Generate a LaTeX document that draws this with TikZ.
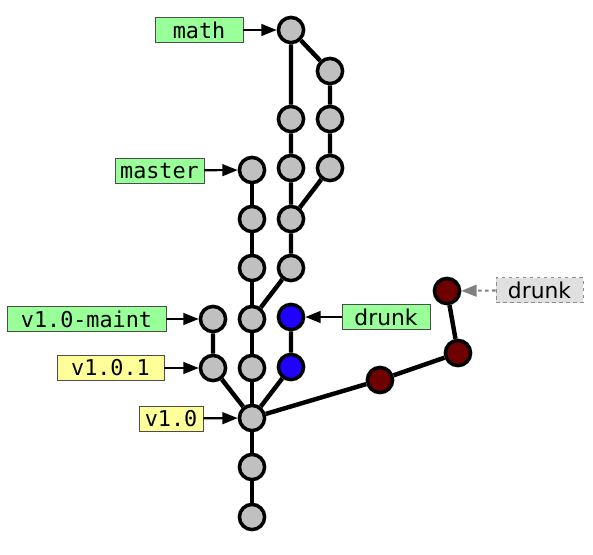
\documentclass[tikz,border=0pt]{standalone}
\usepackage{fontspec}
\setmonofont{DejaVu Sans Mono}
\setsansfont{DejaVu Sans}
\usetikzlibrary{arrows.meta}
\definecolor{labelgreen}{RGB}{153,255,153}
\definecolor{labelyellow}{RGB}{255,255,153}
\definecolor{commitgray}{RGB}{192,192,192}
\definecolor{commitblue}{RGB}{32,0,255}
\definecolor{commitred}{RGB}{110,0,0}
\begin{document}
\begin{tikzpicture}[x=0.03cm,y=-0.03cm,
  commit/.style={circle,draw=black,line width=3pt,fill=commitgray,minimum size=21.5pt,inner sep=0pt},
  edge_line/.style={line width=3.8pt},
  ref_label/.style={rectangle,draw=black!70,line width=0.7pt,minimum height=0.75cm,inner sep=0pt,
    font=\fontsize{18.6}{20}\selectfont\ttfamily},
  ref_arrow/.style={line width=1.8pt,-{Triangle[length=13pt,width=10pt]}}]

  \useasboundingbox (0,0) rectangle (593,554);

  % commits
  \node[commit] (b1) at (252,517) {};
  \node[commit] (b2) at (252,467) {};
  \node[commit] (v10) at (252,418) {};
  \node[commit] (m1) at (252,368) {};
  \node[commit] (m2) at (252,319) {};
  \node[commit] (m3) at (252,268) {};
  \node[commit] (m4) at (252,219) {};
  \node[commit] (m5) at (252,170) {};
  \node[commit] (t1) at (213,368) {};
  \node[commit] (t2) at (213,319) {};
  \node[commit,fill=commitblue] (d1) at (291,367) {};
  \node[commit,fill=commitblue] (d2) at (291,317) {};
  \node[commit] (a1) at (291,268) {};
  \node[commit] (a2) at (291,219) {};
  \node[commit] (a3) at (291,168) {};
  \node[commit] (a4) at (291,119) {};
  \node[commit] (a5) at (291,30) {};
  \node[commit] (c1) at (330,168) {};
  \node[commit] (c2) at (330,119) {};
  \node[commit] (c3) at (330,71) {};
  \node[commit,fill=commitred] (r1) at (380,380) {};
  \node[commit,fill=commitred] (r2) at (458,353) {};
  \node[commit,fill=commitred] (r3) at (447,291) {};

  % history
  \draw[edge_line] (b1) -- (b2) -- (v10) -- (m1) -- (m2) -- (m3) -- (m4) -- (m5);
  \draw[edge_line] (v10) -- (t1) -- (t2);
  \draw[edge_line] (v10) -- (d1) -- (d2);
  \draw[edge_line] (m2) -- (a1) -- (a2) -- (a3) -- (a4) -- (a5);
  \draw[edge_line] (a2) -- (c1) -- (c2) -- (c3) -- (a5);
  \draw[edge_line] (v10) -- (r1) -- (r2) -- (r3);

  % refs
  \node[ref_label,fill=labelgreen,minimum width=2.64cm] (math) at (199,30) {math};
  \node[ref_label,fill=labelgreen,minimum width=2.67cm] (master) at (159.5,170.5) {master};
  \node[ref_label,fill=labelgreen,minimum width=4.77cm] (maint) at (86.5,319) {v1.0-maint};
  \node[ref_label,fill=labelyellow,minimum width=3.21cm] (v101) at (110.5,368) {v1.0.1};
  \node[ref_label,fill=labelyellow,minimum width=1.92cm] (v10tag) at (171,418.5) {v1.0};
  \node[ref_label,fill=labelgreen,minimum width=2.64cm,font=\fontsize{18.6}{20}\selectfont\sffamily] (drunk) at (386,317) {drunk};
  \node[ref_label,fill=black!12,draw=black!45,dashed,minimum width=2.61cm,font=\fontsize{18.6}{20}\selectfont\sffamily] (remote) at (539.5,290) {drunk};

  \draw[ref_arrow] (math) -- (a5);
  \draw[ref_arrow] (master) -- (m5);
  \draw[ref_arrow] (maint) -- (t2);
  \draw[ref_arrow] (v101) -- (t1);
  \draw[ref_arrow] (v10tag) -- (v10);
  \draw[ref_arrow] (drunk) -- (d2);
  \draw[ref_arrow,black!50,dashed] (remote) -- (r3);

\end{tikzpicture}
\end{document}
